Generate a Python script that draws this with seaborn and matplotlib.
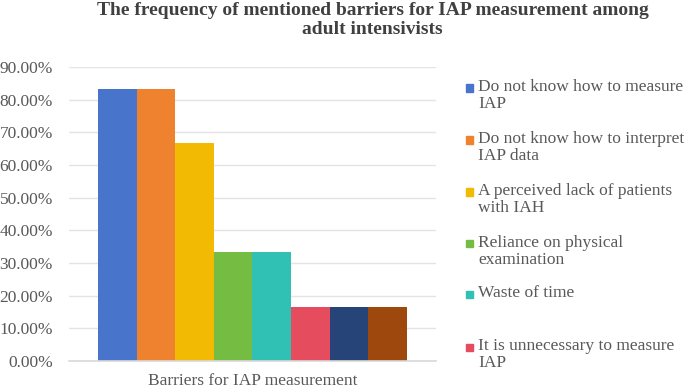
import pandas as pd
import seaborn as sns
from matplotlib import pyplot as plt
from matplotlib.patches import Rectangle
from matplotlib.ticker import PercentFormatter

# Barriers (legend only shows the first six entries, the rest are cut off)
barriers = [
    'Do not know how to measure\nIAP',
    'Do not know how to interpret\nIAP data',
    'A perceived lack of patients\nwith IAH',
    'Reliance on physical\nexamination',
    'Waste of time',
    'It is unnecessary to measure\nIAP',
    'Other barrier 1',
    'Other barrier 2',
]
frequency = [0.8333, 0.8333, 0.6667, 0.3333, 0.3333, 0.1667, 0.1667, 0.1667]
group = ['Barriers for IAP measurement'] * len(barriers)
colors = ['#4874CB', '#EE822F', '#F2BA02', '#75BD42',
          '#30C0B4', '#E54C5E', '#264478', '#9E480E']
n_legend = 6

df = pd.DataFrame({'group': group, 'barrier': barriers, 'frequency': frequency})

sns.set_style('white')
plt.rcParams['font.family'] = ['Liberation Serif', 'DejaVu Serif']

fig = plt.figure(figsize=(6.85, 3.88), dpi=100)
ax = fig.add_axes([0.1007, 0.0696, 0.5358, 0.7577])

sns.barplot(data=df, x='group', y='frequency', hue='barrier',
            palette=colors, width=0.84, ax=ax, legend=False,
            saturation=1, linewidth=0)

ax.set_ylim(0, 0.9)
ax.set_xlim(-0.5, 0.5)
ax.set_yticks([i / 10 for i in range(10)])
ax.yaxis.set_major_formatter(PercentFormatter(1.0, decimals=2))
ax.grid(axis='y', color='#e4e4e4', linewidth=1)
ax.set_axisbelow(True)
for s in ['top', 'right', 'left']:
    ax.spines[s].set_visible(False)
ax.spines['bottom'].set_color('#d9d9d9')
ax.spines['bottom'].set_linewidth(1.2)
ax.tick_params(axis='both', length=0, labelsize=12.5, labelcolor='#595959')
ax.tick_params(axis='y', pad=11.5)
ax.tick_params(axis='x', pad=9)
ax.set_xlabel('')
ax.set_ylabel('')

fig.suptitle('The frequency of mentioned barriers for IAP measurement among\nadult intensivists',
             x=0.544, y=0.995, fontsize=14, fontweight='bold', color='#404040',
             linespacing=1.15)

# legend drawn by hand so the markers sit next to the first line
W, H = 685, 388
slots = [88, 140, 192, 244, 294, 347]
for i in range(n_legend):
    yc = slots[i]
    fig.patches.append(Rectangle((466 / W, 1 - (yc + 3.5) / H), 7 / W, 7 / H,
                                 transform=fig.transFigure, color=colors[i]))
    fig.text(478 / W, 1 - (yc - 9) / H, barriers[i], fontsize=12.5,
             color='#595959', va='top', ha='left', linespacing=1.05)

plt.savefig('out.png', dpi=100)
plt.close()
